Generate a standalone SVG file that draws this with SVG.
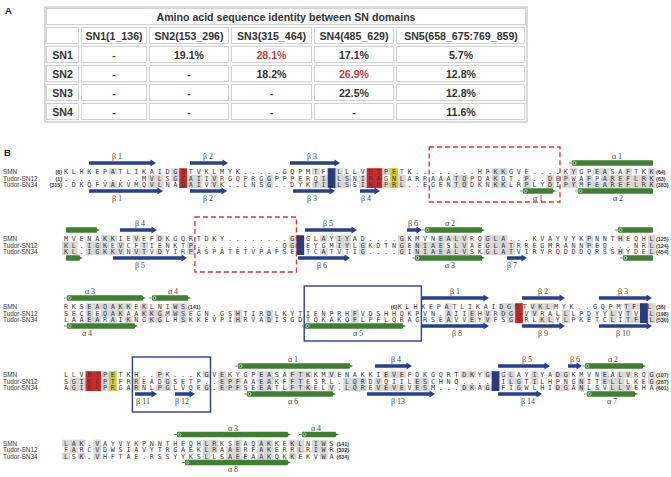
<svg xmlns="http://www.w3.org/2000/svg" width="671" height="477" viewBox="0 0 671 477">
<style>
.pl{font-family:"Liberation Sans",Arial,sans-serif;font-size:9.5px;font-weight:bold;fill:#222}
.tt{font-family:"Liberation Sans",Arial,sans-serif;font-size:10.6px;font-weight:bold;fill:#333;text-anchor:middle}
.rd{fill:#d33b36}
.cell{fill:#fff;stroke:#d2d2d2;stroke-width:1}
.seq{font-family:"DejaVu Sans Mono",monospace;font-size:6.8px;letter-spacing:3.716px;fill:#3a3a3a}
.nm{font-family:"Liberation Sans",Arial,sans-serif;font-size:6.4px;fill:#333}
.num{font-family:"Liberation Sans",Arial,sans-serif;font-size:5.4px;font-weight:bold;fill:#333}
.ne{text-anchor:end}
.lab{font-family:"Liberation Serif","Times New Roman",serif;font-size:8px;fill:#444;text-anchor:middle}
.g rect{fill:#d8d8d8}
.red{fill:#cc2a2a}
.yel{fill:#cccc33}
.blu{fill:#273a8c}
.beta{fill:#273f8f}
.hel{fill:#3f7f32}
.hl{stroke:#3f7f32;stroke-width:0.8;fill:none}
.hc{fill:none;stroke:#d8ead2;stroke-width:0.7}
.dash{fill:none;stroke:#d9342e;stroke-width:1.3;stroke-dasharray:5 3}
.box{fill:none;stroke:#2d3f8e;stroke-width:1.4}
</style>
<rect x="0" y="0" width="671" height="477" fill="#fff"/>
<g id="panelA">
<text class="pl" x="5" y="13.5">A</text>
<g id="table">
<rect x="45" y="7" width="482" height="115" fill="#fafafa" stroke="#b8b8b8"/>
<rect class="cell" x="46.5" y="8.5" width="479" height="16"/>
<g id="cells">
<rect class="cell" x="46.5" y="27.5" width="32" height="16"/><rect class="cell" x="81.5" y="27.5" width="65" height="16"/><rect class="cell" x="149.5" y="27.5" width="79" height="16"/><rect class="cell" x="231.5" y="27.5" width="80" height="16"/><rect class="cell" x="314.5" y="27.5" width="79" height="16"/><rect class="cell" x="396.5" y="27.5" width="128" height="16"/>
<rect class="cell" x="46.5" y="46.5" width="32" height="16"/><rect class="cell" x="81.5" y="46.5" width="65" height="16"/><rect class="cell" x="149.5" y="46.5" width="79" height="16"/><rect class="cell" x="231.5" y="46.5" width="80" height="16"/><rect class="cell" x="314.5" y="46.5" width="79" height="16"/><rect class="cell" x="396.5" y="46.5" width="128" height="16"/>
<rect class="cell" x="46.5" y="65.5" width="32" height="16"/><rect class="cell" x="81.5" y="65.5" width="65" height="16"/><rect class="cell" x="149.5" y="65.5" width="79" height="16"/><rect class="cell" x="231.5" y="65.5" width="80" height="16"/><rect class="cell" x="314.5" y="65.5" width="79" height="16"/><rect class="cell" x="396.5" y="65.5" width="128" height="16"/>
<rect class="cell" x="46.5" y="84.5" width="32" height="16"/><rect class="cell" x="81.5" y="84.5" width="65" height="16"/><rect class="cell" x="149.5" y="84.5" width="79" height="16"/><rect class="cell" x="231.5" y="84.5" width="80" height="16"/><rect class="cell" x="314.5" y="84.5" width="79" height="16"/><rect class="cell" x="396.5" y="84.5" width="128" height="16"/>
<rect class="cell" x="46.5" y="103.5" width="32" height="16"/><rect class="cell" x="81.5" y="103.5" width="65" height="16"/><rect class="cell" x="149.5" y="103.5" width="79" height="16"/><rect class="cell" x="231.5" y="103.5" width="80" height="16"/><rect class="cell" x="314.5" y="103.5" width="79" height="16"/><rect class="cell" x="396.5" y="103.5" width="128" height="16"/>
</g>
<text class="tt" x="286" y="20.5">Amino acid sequence identity between SN domains</text>
<text class="tt" x="114" y="39.5">SN1(1_136)</text><text class="tt" x="189" y="39.5">SN2(153_296)</text><text class="tt" x="271.5" y="39.5">SN3(315_464)</text><text class="tt" x="354" y="39.5">SN4(485_629)</text><text class="tt" x="461" y="39.5">SN5(658_675:769_859)</text>
<text class="tt" x="62.5" y="58.5">SN1</text><text class="tt" x="114" y="58.5">-</text><text class="tt" x="189" y="58.5">19.1%</text><text class="tt rd" x="271.5" y="58.5">28.1%</text><text class="tt" x="354" y="58.5">17.1%</text><text class="tt" x="461" y="58.5">5.7%</text>
<text class="tt" x="62.5" y="77.5">SN2</text><text class="tt" x="114" y="77.5">-</text><text class="tt" x="189" y="77.5">-</text><text class="tt" x="271.5" y="77.5">18.2%</text><text class="tt rd" x="354" y="77.5">26.9%</text><text class="tt" x="461" y="77.5">12.8%</text>
<text class="tt" x="62.5" y="96.5">SN3</text><text class="tt" x="114" y="96.5">-</text><text class="tt" x="189" y="96.5">-</text><text class="tt" x="271.5" y="96.5">-</text><text class="tt" x="354" y="96.5">22.5%</text><text class="tt" x="461" y="96.5">12.8%</text>
<text class="tt" x="62.5" y="115.5">SN4</text><text class="tt" x="114" y="115.5">-</text><text class="tt" x="189" y="115.5">-</text><text class="tt" x="271.5" y="115.5">-</text><text class="tt" x="354" y="115.5">-</text><text class="tt" x="461" y="115.5">11.6%</text>
</g>
</g>
<g id="panelB">
<text class="pl" x="4" y="156">B</text>

<g id="block1">
<g class="g">
<rect x="108.96" y="168.2" width="7.81" height="6.6"/><rect x="171.44" y="168.2" width="7.81" height="6.6"/><rect x="312.02" y="168.2" width="7.81" height="6.6"/><rect x="335.45" y="168.2" width="7.81" height="6.6"/><rect x="382.31" y="168.2" width="7.81" height="6.6"/><rect x="491.65" y="168.2" width="15.62" height="6.6"/><rect x="569.75" y="168.2" width="7.81" height="6.6"/><rect x="593.18" y="168.2" width="15.62" height="6.6"/><rect x="624.42" y="168.2" width="7.81" height="6.6"/><rect x="647.85" y="168.2" width="7.81" height="6.6"/>
<rect x="148.01" y="174.8" width="15.62" height="6.6"/><rect x="171.44" y="174.8" width="7.81" height="6.6"/><rect x="187.06" y="174.8" width="15.62" height="6.6"/><rect x="210.49" y="174.8" width="7.81" height="6.6"/><rect x="265.16" y="174.8" width="7.81" height="6.6"/><rect x="319.83" y="174.8" width="7.81" height="6.6"/><rect x="335.45" y="174.8" width="15.62" height="6.6"/><rect x="358.88" y="174.8" width="7.81" height="6.6"/><rect x="397.93" y="174.8" width="7.81" height="6.6"/><rect x="452.6" y="174.8" width="15.62" height="6.6"/><rect x="491.65" y="174.8" width="7.81" height="6.6"/><rect x="522.89" y="174.8" width="7.81" height="6.6"/><rect x="546.32" y="174.8" width="7.81" height="6.6"/><rect x="561.94" y="174.8" width="7.81" height="6.6"/><rect x="585.37" y="174.8" width="7.81" height="6.6"/><rect x="600.99" y="174.8" width="54.67" height="6.6"/>
<rect x="108.96" y="181.4" width="7.81" height="6.6"/><rect x="148.01" y="181.4" width="15.62" height="6.6"/><rect x="187.06" y="181.4" width="15.62" height="6.6"/><rect x="210.49" y="181.4" width="7.81" height="6.6"/><rect x="265.16" y="181.4" width="7.81" height="6.6"/><rect x="312.02" y="181.4" width="15.62" height="6.6"/><rect x="335.45" y="181.4" width="15.62" height="6.6"/><rect x="358.88" y="181.4" width="7.81" height="6.6"/><rect x="382.31" y="181.4" width="7.81" height="6.6"/><rect x="397.93" y="181.4" width="7.81" height="6.6"/><rect x="452.6" y="181.4" width="15.62" height="6.6"/><rect x="491.65" y="181.4" width="15.62" height="6.6"/><rect x="522.89" y="181.4" width="7.81" height="6.6"/><rect x="546.32" y="181.4" width="7.81" height="6.6"/><rect x="561.94" y="181.4" width="15.62" height="6.6"/><rect x="585.37" y="181.4" width="70.29" height="6.6"/>
</g>
<rect class="red" x="179.25" y="168.2" width="7.81" height="19.8"/><rect class="red" x="366.69" y="168.2" width="15.62" height="19.8"/><rect class="yel" x="390.12" y="168.2" width="7.81" height="19.8"/><rect class="blu" x="327.64" y="168.2" width="7.81" height="19.8"/>
<text class="nm" x="3" y="174">SMN</text><text class="nm" x="3" y="180.6">Tudor-SN12</text><text class="nm" x="3" y="187.2">Tudor-SN34</text>
<text class="num ne" x="62" y="174">(6)</text><text class="num ne" x="62" y="180.6">(1)</text><text class="num ne" x="62" y="187.2">(315)</text>
<text class="seq" x="63.95" y="174">KLHKEPATLIKAIDGDTVKLMYK.....GQPMTFRLLLVDTPETK........HPKKGVE....KYGPEASAFTKK</text>
<text class="seq" x="63.95" y="180.6">..........MVLSGCAIIVRGQPRGGPPPERQINLSNIRAGNLARRAAATQPDAKDT.P..DEPWAFPAREFLRK</text>
<text class="seq" x="63.95" y="187.2">.DKQFVAKVMQVLNADAIVVK..LNSG..DYKTIHLSSIRPPRL..EGENTQDKNKKLRPLYDIPYMFEAREFLRK</text>
<text class="num" x="656" y="174">(64)</text><text class="num" x="656" y="180.6">(63)</text><text class="num" x="656" y="187.2">(383)</text>
<path class="beta" d="M89,161.3H150.5V159.4L156,163L150.5,166.6V164.7H89Z"/>
<path class="beta" d="M190,161.3H222.5V159.4L228,163L222.5,166.6V164.7H190Z"/>
<path class="beta" d="M290,161.3H334.5V159.4L340,163L334.5,166.6V164.7H290Z"/>
<rect class="hel" x="572" y="160.2" width="81" height="5.6" rx="1"/><path class="hl" d="M569,163H572"/><circle class="hc" cx="574.5" cy="163" r="1.5"/>
<path class="beta" d="M89,189.3H157.5V187.4L163,191L157.5,194.6V192.7H89Z"/>
<path class="beta" d="M190,189.3H221.5V187.4L227,191L221.5,194.6V192.7H190Z"/>
<path class="beta" d="M293,189.3H329.5V187.4L335,191L329.5,194.6V192.7H293Z"/>
<path class="beta" d="M360,189.3H374.5V187.4L380,191L374.5,194.6V192.7H360Z"/>
<rect class="hel" x="523" y="188.2" width="30" height="5.6" rx="1"/><path class="hl" d="M520,191H523"/><circle class="hc" cx="525.5" cy="191" r="1.5"/><path class="hel" d="M553,189.7L556,191L553,192.3Z"/>
<rect class="hel" x="578" y="188.2" width="75" height="5.6" rx="1"/><path class="hl" d="M575,191H578"/><circle class="hc" cx="580.5" cy="191" r="1.5"/>
<text class="lab" x="117" y="159">β 1</text><text class="lab" x="208" y="159">β 2</text><text class="lab" x="312" y="159">β 3</text><text class="lab" x="617" y="159">α 1</text>
<text class="lab" x="117" y="200.5">β 1</text><text class="lab" x="208" y="200.5">β 2</text><text class="lab" x="312" y="200.5">β 3</text><text class="lab" x="366" y="200.5">β 4</text><text class="lab" x="538" y="200.5">α 1</text><text class="lab" x="618" y="200.5">α 2</text>
<rect class="dash" x="429.2" y="147" width="130.8" height="55"/>
</g>

<g id="block2">
<g class="g">
<rect x="101.15" y="235.2" width="15.62" height="6.6"/><rect x="132.39" y="235.2" width="7.81" height="6.6"/><rect x="155.82" y="235.2" width="7.81" height="6.6"/><rect x="288.59" y="235.2" width="7.81" height="6.6"/><rect x="319.83" y="235.2" width="7.81" height="6.6"/><rect x="335.45" y="235.2" width="15.62" height="6.6"/><rect x="397.93" y="235.2" width="7.81" height="6.6"/><rect x="436.98" y="235.2" width="31.24" height="6.6"/><rect x="483.84" y="235.2" width="23.43" height="6.6"/><rect x="585.37" y="235.2" width="7.81" height="6.6"/><rect x="616.61" y="235.2" width="7.81" height="6.6"/><rect x="647.85" y="235.2" width="7.81" height="6.6"/>
<rect x="62.1" y="241.8" width="15.62" height="6.6"/><rect x="85.53" y="241.8" width="23.43" height="6.6"/><rect x="116.77" y="241.8" width="7.81" height="6.6"/><rect x="140.2" y="241.8" width="7.81" height="6.6"/><rect x="187.06" y="241.8" width="7.81" height="6.6"/><rect x="288.59" y="241.8" width="7.81" height="6.6"/><rect x="335.45" y="241.8" width="15.62" height="6.6"/><rect x="358.88" y="241.8" width="7.81" height="6.6"/><rect x="397.93" y="241.8" width="7.81" height="6.6"/><rect x="413.55" y="241.8" width="31.24" height="6.6"/><rect x="452.6" y="241.8" width="15.62" height="6.6"/><rect x="483.84" y="241.8" width="31.24" height="6.6"/><rect x="585.37" y="241.8" width="7.81" height="6.6"/><rect x="647.85" y="241.8" width="7.81" height="6.6"/>
<rect x="62.1" y="248.4" width="15.62" height="6.6"/><rect x="85.53" y="248.4" width="39.05" height="6.6"/><rect x="132.39" y="248.4" width="15.62" height="6.6"/><rect x="155.82" y="248.4" width="7.81" height="6.6"/><rect x="187.06" y="248.4" width="7.81" height="6.6"/><rect x="319.83" y="248.4" width="7.81" height="6.6"/><rect x="358.88" y="248.4" width="7.81" height="6.6"/><rect x="397.93" y="248.4" width="7.81" height="6.6"/><rect x="413.55" y="248.4" width="54.67" height="6.6"/><rect x="483.84" y="248.4" width="31.24" height="6.6"/><rect x="616.61" y="248.4" width="7.81" height="6.6"/><rect x="647.85" y="248.4" width="7.81" height="6.6"/>
</g>
<rect class="blu" x="296.4" y="235.2" width="7.81" height="19.8"/>
<text class="nm" x="3" y="241">SMN</text><text class="nm" x="3" y="247.6">Tudor-SN12</text><text class="nm" x="3" y="254.2">Tudor-SN34</text>
<text class="seq" x="63.95" y="241">MVENAKKIEVEFDKGQRTDKY........GRGLAYIYAD....GKMVNEALVRQGLA...KVAYVYKPNNTHEQHL</text>
<text class="seq" x="63.95" y="247.6">KL.IGKEVCFTIENKTP...........QGREYGMIYLGKDTNGENIAESLVAEGLATRREGMRANNPEQ...NRL</text>
<text class="seq" x="63.95" y="254.2">KL.IGKKVNVTVDYIRPASPATETVPAFSERTCATVTIG....GINIAEALVSKGLATVIRYRQDDDQRSSHYDEL</text>
<text class="num" x="656" y="241">(125)</text><text class="num" x="656" y="247.6">(124)</text><text class="num" x="656" y="254.2">(454)</text>
<rect class="hel" x="66" y="227.2" width="31" height="5.6" rx="1"/><path class="hel" d="M97,228.7L100,230L97,231.3Z"/>
<path class="beta" d="M120,228.3H151.5V226.4L157,230L151.5,233.6V231.7H120Z"/>
<path class="beta" d="M305,228.3H351.5V226.4L357,230L351.5,233.6V231.7H305Z"/>
<path class="beta" d="M407,228.3H416.5V226.4L422,230L416.5,233.6V231.7H407Z"/>
<rect class="hel" x="425" y="227.2" width="57" height="5.6" rx="1"/><path class="hl" d="M422,230H425"/><circle class="hc" cx="427.5" cy="230" r="1.5"/><path class="hel" d="M482,228.7L485,230L482,231.3Z"/>
<rect class="hel" x="618" y="227.2" width="35" height="5.6" rx="1"/><path class="hl" d="M615,230H618"/><circle class="hc" cx="620.5" cy="230" r="1.5"/>
<rect class="hel" x="66" y="255.2" width="14" height="5.6" rx="1"/><path class="hel" d="M80,256.7L83,258L80,259.3Z"/>
<path class="beta" d="M113,256.3H181.5V254.4L187,258L181.5,261.6V259.7H113Z"/>
<path class="beta" d="M298,256.3H344.5V254.4L350,258L344.5,261.6V259.7H298Z"/>
<rect class="hel" x="415" y="255.2" width="67" height="5.6" rx="1"/><path class="hl" d="M412,258H415"/><circle class="hc" cx="417.5" cy="258" r="1.5"/><path class="hel" d="M482,256.7L485,258L482,259.3Z"/>
<path class="beta" d="M507,256.3H521.5V254.4L527,258L521.5,261.6V259.7H507Z"/>
<rect class="hel" x="623" y="255.2" width="30" height="5.6" rx="1"/><path class="hl" d="M620,258H623"/><circle class="hc" cx="625.5" cy="258" r="1.5"/>
<text class="lab" x="140" y="226">β 4</text><text class="lab" x="328" y="226">β 5</text><text class="lab" x="413" y="226">β 6</text><text class="lab" x="450" y="226">α 2</text>
<text class="lab" x="140" y="267.5">β 5</text><text class="lab" x="322" y="267.5">β 6</text><text class="lab" x="450" y="267.5">α 3</text><text class="lab" x="512" y="267.5">β 7</text>
<rect class="dash" x="194.9" y="217" width="101.5" height="55"/>
</g>

<g id="block3">
<g class="g">
<rect x="85.53" y="303.2" width="46.86" height="6.6"/><rect x="140.2" y="303.2" width="7.81" height="6.6"/><rect x="171.44" y="303.2" width="15.62" height="6.6"/><rect x="444.79" y="303.2" width="7.81" height="6.6"/><rect x="499.46" y="303.2" width="15.62" height="6.6"/><rect x="530.7" y="303.2" width="23.43" height="6.6"/><rect x="624.42" y="303.2" width="15.62" height="6.6"/><rect x="647.85" y="303.2" width="7.81" height="6.6"/>
<rect x="85.53" y="309.8" width="7.81" height="6.6"/><rect x="101.15" y="309.8" width="23.43" height="6.6"/><rect x="140.2" y="309.8" width="23.43" height="6.6"/><rect x="171.44" y="309.8" width="15.62" height="6.6"/><rect x="233.92" y="309.8" width="7.81" height="6.6"/><rect x="265.16" y="309.8" width="7.81" height="6.6"/><rect x="351.07" y="309.8" width="7.81" height="6.6"/><rect x="444.79" y="309.8" width="7.81" height="6.6"/><rect x="468.22" y="309.8" width="7.81" height="6.6"/><rect x="483.84" y="309.8" width="7.81" height="6.6"/><rect x="499.46" y="309.8" width="15.62" height="6.6"/><rect x="530.7" y="309.8" width="7.81" height="6.6"/><rect x="561.94" y="309.8" width="7.81" height="6.6"/><rect x="608.8" y="309.8" width="7.81" height="6.6"/><rect x="624.42" y="309.8" width="7.81" height="6.6"/><rect x="647.85" y="309.8" width="7.81" height="6.6"/>
<rect x="85.53" y="316.4" width="15.62" height="6.6"/><rect x="108.96" y="316.4" width="7.81" height="6.6"/><rect x="124.58" y="316.4" width="7.81" height="6.6"/><rect x="148.01" y="316.4" width="15.62" height="6.6"/><rect x="179.25" y="316.4" width="7.81" height="6.6"/><rect x="233.92" y="316.4" width="7.81" height="6.6"/><rect x="265.16" y="316.4" width="7.81" height="6.6"/><rect x="351.07" y="316.4" width="7.81" height="6.6"/><rect x="444.79" y="316.4" width="7.81" height="6.6"/><rect x="468.22" y="316.4" width="7.81" height="6.6"/><rect x="483.84" y="316.4" width="7.81" height="6.6"/><rect x="507.27" y="316.4" width="7.81" height="6.6"/><rect x="538.51" y="316.4" width="15.62" height="6.6"/><rect x="561.94" y="316.4" width="7.81" height="6.6"/><rect x="608.8" y="316.4" width="7.81" height="6.6"/><rect x="624.42" y="316.4" width="15.62" height="6.6"/><rect x="647.85" y="316.4" width="7.81" height="6.6"/>
</g>
<rect class="red" x="515.08" y="303.2" width="7.81" height="19.8"/><rect class="blu" x="640.04" y="303.2" width="7.81" height="19.8"/>
<text class="nm" x="3" y="309">SMN</text><text class="nm" x="3" y="315.6">Tudor-SN12</text><text class="nm" x="3" y="322.2">Tudor-SN34</text>
<text class="seq" x="63.95" y="309">RKSEAQAKKEKLNIWS</text>
<text class="num" x="188" y="309">(141)</text>
<text class="num ne" x="397.4" y="309">(6)</text>
<text class="seq" x="397.78" y="309">KLHKEPATLIKAIDGDTVKLMYK..GQPMTFRL</text>
<text class="seq" x="63.95" y="315.6">SECEEQAKAAKKGMWSEGN.GSHTIRDLKYTIENPRHFVDSHHQKPVN.AIIEHVRDGSVVRALLLPDYYLVTVML</text>
<text class="seq" x="63.95" y="322.2">LAAEARAIKNGKGLHSKKEVPIHRVADISGDTQKAKQFLPFLQRAGRSEAVVEYVFSGSRLKLYLPKETCLITFLL</text>
<text class="num" x="656" y="309">(36)</text><text class="num" x="656" y="315.6">(198)</text><text class="num" x="656" y="322.2">(530)</text>
<rect class="hel" x="67" y="295.2" width="76" height="5.6" rx="1"/><path class="hl" d="M64,298H67"/><circle class="hc" cx="69.5" cy="298" r="1.5"/><path class="hel" d="M143,296.7L146,298L143,299.3Z"/>
<rect class="hel" x="152" y="295.2" width="36" height="5.6" rx="1"/><path class="hl" d="M149,298H152"/><circle class="hc" cx="154.5" cy="298" r="1.5"/><path class="hel" d="M188,296.7L191,298L188,299.3Z"/>
<path class="beta" d="M422,296.3H483.5V294.4L489,298L483.5,301.6V299.7H422Z"/>
<path class="beta" d="M522,296.3H559.5V294.4L565,298L559.5,301.6V299.7H522Z"/>
<path class="beta" d="M599,296.3H646.5V294.4L652,298L646.5,301.6V299.7H599Z"/>
<rect class="hel" x="67" y="323.2" width="68" height="5.6" rx="1"/><path class="hl" d="M64,326H67"/><circle class="hc" cx="69.5" cy="326" r="1.5"/><path class="hel" d="M135,324.7L138,326L135,327.3Z"/>
<rect class="hel" x="305" y="323.2" width="98" height="5.6" rx="1"/><path class="hl" d="M302,326H305"/><circle class="hc" cx="307.5" cy="326" r="1.5"/><path class="hel" d="M403,324.7L406,326L403,327.3Z"/>
<path class="beta" d="M422,324.3H483.5V322.4L489,326L483.5,329.6V327.7H422Z"/>
<path class="beta" d="M522,324.3H559.5V322.4L565,326L559.5,329.6V327.7H522Z"/>
<path class="beta" d="M599,324.3H646.5V322.4L652,326L646.5,329.6V327.7H599Z"/>
<text class="lab" x="90" y="294">α 3</text><text class="lab" x="173" y="294">α 4</text><text class="lab" x="455" y="294">β 1</text><text class="lab" x="543" y="294">β 2</text><text class="lab" x="623" y="294">β 3</text>
<text class="lab" x="87" y="335.5">α 4</text><text class="lab" x="358" y="335.5">α 5</text><text class="lab" x="457" y="335.5">β 8</text><text class="lab" x="543" y="335.5">β 9</text><text class="lab" x="623" y="335.5">β 10</text>
<rect class="box" x="304.2" y="286" width="117.2" height="55"/>
</g>

<g id="block4">
<g class="g">
<rect x="101.15" y="371.2" width="7.81" height="6.6"/><rect x="155.82" y="371.2" width="7.81" height="6.6"/><rect x="202.68" y="371.2" width="7.81" height="6.6"/><rect x="218.3" y="371.2" width="7.81" height="6.6"/><rect x="257.35" y="371.2" width="15.62" height="6.6"/><rect x="288.59" y="371.2" width="23.43" height="6.6"/><rect x="327.64" y="371.2" width="7.81" height="6.6"/><rect x="382.31" y="371.2" width="23.43" height="6.6"/><rect x="460.41" y="371.2" width="15.62" height="6.6"/><rect x="483.84" y="371.2" width="7.81" height="6.6"/><rect x="507.27" y="371.2" width="7.81" height="6.6"/><rect x="530.7" y="371.2" width="7.81" height="6.6"/><rect x="554.13" y="371.2" width="15.62" height="6.6"/><rect x="600.99" y="371.2" width="7.81" height="6.6"/><rect x="616.61" y="371.2" width="15.62" height="6.6"/><rect x="647.85" y="371.2" width="7.81" height="6.6"/>
<rect x="69.91" y="377.8" width="15.62" height="6.6"/><rect x="101.15" y="377.8" width="7.81" height="6.6"/><rect x="132.39" y="377.8" width="7.81" height="6.6"/><rect x="163.63" y="377.8" width="7.81" height="6.6"/><rect x="218.3" y="377.8" width="23.43" height="6.6"/><rect x="257.35" y="377.8" width="15.62" height="6.6"/><rect x="288.59" y="377.8" width="15.62" height="6.6"/><rect x="343.26" y="377.8" width="23.43" height="6.6"/><rect x="374.5" y="377.8" width="7.81" height="6.6"/><rect x="413.55" y="377.8" width="15.62" height="6.6"/><rect x="507.27" y="377.8" width="15.62" height="6.6"/><rect x="530.7" y="377.8" width="7.81" height="6.6"/><rect x="577.56" y="377.8" width="7.81" height="6.6"/><rect x="600.99" y="377.8" width="23.43" height="6.6"/><rect x="647.85" y="377.8" width="7.81" height="6.6"/>
<rect x="69.91" y="384.4" width="15.62" height="6.6"/><rect x="101.15" y="384.4" width="7.81" height="6.6"/><rect x="132.39" y="384.4" width="7.81" height="6.6"/><rect x="155.82" y="384.4" width="15.62" height="6.6"/><rect x="202.68" y="384.4" width="7.81" height="6.6"/><rect x="218.3" y="384.4" width="23.43" height="6.6"/><rect x="257.35" y="384.4" width="15.62" height="6.6"/><rect x="288.59" y="384.4" width="23.43" height="6.6"/><rect x="327.64" y="384.4" width="7.81" height="6.6"/><rect x="343.26" y="384.4" width="23.43" height="6.6"/><rect x="374.5" y="384.4" width="31.24" height="6.6"/><rect x="413.55" y="384.4" width="15.62" height="6.6"/><rect x="460.41" y="384.4" width="15.62" height="6.6"/><rect x="483.84" y="384.4" width="7.81" height="6.6"/><rect x="515.08" y="384.4" width="7.81" height="6.6"/><rect x="554.13" y="384.4" width="15.62" height="6.6"/><rect x="577.56" y="384.4" width="7.81" height="6.6"/><rect x="608.8" y="384.4" width="23.43" height="6.6"/>
</g>
<rect class="red" x="85.53" y="371.2" width="15.62" height="19.8"/><rect class="yel" x="108.96" y="371.2" width="7.81" height="19.8"/><rect class="blu" x="491.65" y="371.2" width="7.81" height="19.8"/>
<text class="nm" x="3" y="377">SMN</text><text class="nm" x="3" y="383.6">Tudor-SN12</text><text class="nm" x="3" y="390.2">Tudor-SN34</text>
<text class="seq" x="63.95" y="377">LLVDTPETKH..PK...KGVEKYGPEASAFTKKMVENAKKIEVEFDKGQRTDKYGRGLAYIYADGKMVNEALVRQG</text>
<text class="seq" x="63.95" y="383.6">SGIKCPTFRREADGSETP..EPFAAEAKFFTESRL.LQRDVQIILESCHNQ....NILGTILHPNGNITELLLKEG</text>
<text class="seq" x="63.95" y="390.2">AGIECPRGARNLPGLVQEG.EPFSEEATLFTKELV.LQREVEVEVESM...DKAGNFIGWLHIDGANLSVLLVEHA</text>
<text class="num" x="656" y="377">(107)</text><text class="num" x="656" y="383.6">(267)</text><text class="num" x="656" y="390.2">(601)</text>
<rect class="hel" x="238" y="363.2" width="112" height="5.6" rx="1"/><path class="hl" d="M235,366H238"/><circle class="hc" cx="240.5" cy="366" r="1.5"/><path class="hel" d="M350,364.7L353,366L350,367.3Z"/>
<path class="beta" d="M375,364.3H406.5V362.4L412,366L406.5,369.6V367.7H375Z"/>
<path class="beta" d="M498,364.3H544.5V362.4L550,366L544.5,369.6V367.7H498Z"/>
<path class="beta" d="M568,364.3H576.5V362.4L582,366L576.5,369.6V367.7H568Z"/>
<rect class="hel" x="585" y="363.2" width="58" height="5.6" rx="1"/><path class="hl" d="M582.5,366H585"/><circle class="hc" cx="587.5" cy="366" r="1.5"/><path class="hel" d="M643,364.7L646,366L643,367.3Z"/>
<path class="beta" d="M135,392.3H151.5V390.4L157,394L151.5,397.6V395.7H135Z"/>
<path class="beta" d="M175,392.3H189.5V390.4L195,394L189.5,397.6V395.7H175Z"/>
<rect class="hel" x="247" y="391.2" width="86" height="5.6" rx="1"/><path class="hl" d="M244,394H247"/><circle class="hc" cx="249.5" cy="394" r="1.5"/><path class="hel" d="M333,392.7L336,394L333,395.3Z"/>
<path class="beta" d="M367,392.3H429.5V390.4L435,394L429.5,397.6V395.7H367Z"/>
<path class="beta" d="M498,392.3H536.5V390.4L542,394L536.5,397.6V395.7H498Z"/>
<rect class="hel" x="587" y="391.2" width="48" height="5.6" rx="1"/><path class="hl" d="M584,394H587"/><circle class="hc" cx="589.5" cy="394" r="1.5"/><path class="hel" d="M635,392.7L638,394L635,395.3Z"/>
<text class="lab" x="293" y="362">α 1</text><text class="lab" x="396" y="362">β 4</text><text class="lab" x="527" y="362">β 5</text><text class="lab" x="575" y="362">β 6</text><text class="lab" x="613" y="362">α 2</text>
<text class="lab" x="143" y="403.5">β 11</text><text class="lab" x="182" y="403.5">β 12</text><text class="lab" x="293" y="403.5">α 6</text><text class="lab" x="398" y="403.5">β 13</text><text class="lab" x="528" y="403.5">β 14</text><text class="lab" x="612" y="403.5">α 7</text>
<rect class="box" x="132.4" y="357" width="78.1" height="55"/>
</g>

<g id="block5">
<g class="g">
<rect x="62.1" y="439.7" width="23.43" height="6.6"/><rect x="93.34" y="439.7" width="7.81" height="6.6"/><rect x="202.68" y="439.7" width="15.62" height="6.6"/><rect x="233.92" y="439.7" width="7.81" height="6.6"/><rect x="257.35" y="439.7" width="15.62" height="6.6"/><rect x="288.59" y="439.7" width="15.62" height="6.6"/><rect x="312.02" y="439.7" width="15.62" height="6.6"/>
<rect x="69.91" y="446.3" width="7.81" height="6.6"/><rect x="93.34" y="446.3" width="7.81" height="6.6"/><rect x="202.68" y="446.3" width="15.62" height="6.6"/><rect x="226.11" y="446.3" width="15.62" height="6.6"/><rect x="257.35" y="446.3" width="15.62" height="6.6"/><rect x="296.4" y="446.3" width="7.81" height="6.6"/><rect x="312.02" y="446.3" width="15.62" height="6.6"/>
<rect x="62.1" y="452.9" width="7.81" height="6.6"/><rect x="77.72" y="452.9" width="7.81" height="6.6"/><rect x="93.34" y="452.9" width="7.81" height="6.6"/><rect x="202.68" y="452.9" width="7.81" height="6.6"/><rect x="226.11" y="452.9" width="15.62" height="6.6"/><rect x="257.35" y="452.9" width="15.62" height="6.6"/><rect x="288.59" y="452.9" width="7.81" height="6.6"/><rect x="319.83" y="452.9" width="7.81" height="6.6"/>
</g>
<text class="nm" x="3" y="445.5">SMN</text><text class="nm" x="3" y="452.1">Tudor-SN12</text><text class="nm" x="3" y="458.7">Tudor-SN34</text>
<text class="seq" x="63.95" y="445.5">LAK.VAYVYKPNNTHEQHLRKSEAQAKKEKLNIWS</text>
<text class="seq" x="63.95" y="452.1">FARCVDWSIAVYTRGAEKLRAAERFAKERRLRIWR</text>
<text class="seq" x="63.95" y="458.7">LSK.VHFTAE.RSSYYKSLLSAEEAAKQKKEKVWA</text>
<text class="num" x="336.5" y="445.5">(141)</text><text class="num" x="336.5" y="452.1">(302)</text><text class="num" x="336.5" y="458.7">(634)</text>
<rect class="hel" x="177" y="431.7" width="111" height="5.6" rx="1"/><path class="hl" d="M174,434.5H177"/><circle class="hc" cx="179.5" cy="434.5" r="1.5"/><path class="hel" d="M288,433.2L291,434.5L288,435.8Z"/>
<rect class="hel" x="302" y="431.7" width="34" height="5.6" rx="1"/><path class="hl" d="M299,434.5H302"/><circle class="hc" cx="304.5" cy="434.5" r="1.5"/><path class="hel" d="M336,433.2L339,434.5L336,435.8Z"/>
<rect class="hel" x="185" y="459.7" width="103" height="5.6" rx="1"/><path class="hl" d="M182,462.5H185"/><circle class="hc" cx="187.5" cy="462.5" r="1.5"/><path class="hel" d="M288,461.2L291,462.5L288,463.8Z"/>
<text class="lab" x="233" y="430.5">α 3</text><text class="lab" x="316" y="430.5">α 4</text>
<text class="lab" x="233" y="472">α 8</text>
</g>
</g>
</svg>
